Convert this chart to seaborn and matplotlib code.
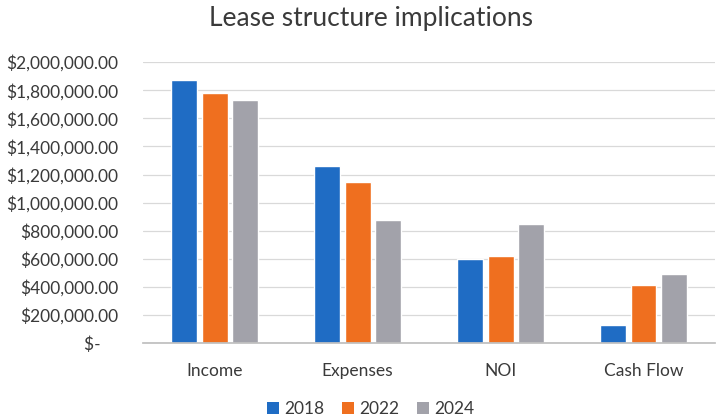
import matplotlib
matplotlib.use("Agg")
import matplotlib.pyplot as plt
from matplotlib.ticker import FuncFormatter, MultipleLocator
from matplotlib.patches import Patch
import seaborn as sns
import pandas as pd

categories = ["Income", "Expenses", "NOI", "Cash Flow"]
years = ["2018", "2022", "2024"]
values_2018 = [1870000, 1260000, 600000, 131000]
values_2022 = [1780000, 1144000, 622000, 413000]
values_2024 = [1730000, 880000, 847000, 494000]
colors = ["#1f6cc4", "#ef6f1f", "#a2a2aa"]

rows = []
for year, vals in zip(years, [values_2018, values_2022, values_2024]):
    for cat, v in zip(categories, vals):
        rows.append({"category": cat, "year": year, "value": v})
df = pd.DataFrame(rows)

sns.set_theme(style="white")
plt.rcParams["font.family"] = ["Lato", "DejaVu Sans"]
text_color = "#3a3a3a"

fig = plt.figure(figsize=(7.2, 4.2), dpi=100)
ax = fig.add_axes([0.199, 0.183, 0.794, 0.669])

sns.barplot(data=df, x="category", y="value", hue="year", order=categories,
            hue_order=years, palette=colors, width=0.64, gap=0.15,
            saturation=1, ax=ax, legend=False)

ax.set_ylim(0, 2000000)
ax.yaxis.set_major_locator(MultipleLocator(200000))


def money(v, pos):
    if abs(v) < 1:
        return "$-    "
    return f"${v:,.2f}"


ax.yaxis.set_major_formatter(FuncFormatter(money))
ax.grid(axis="y", color="#d9d9d9", linewidth=0.9)
ax.set_axisbelow(True)
for side in ["top", "right", "left"]:
    ax.spines[side].set_visible(False)
ax.spines["bottom"].set_color("#bfbfbf")
ax.tick_params(axis="y", length=0, labelsize=12.5, labelcolor=text_color, pad=18)
ax.tick_params(axis="x", length=0, labelsize=12.5, labelcolor=text_color, pad=14)
ax.set_xlabel("")
ax.set_ylabel("")

fig.text(0.515, 0.955, "Lease structure implications", ha="center", va="center",
         fontsize=19, color=text_color)

handles = [Patch(facecolor=c, edgecolor="none") for c in colors]
fig.legend(handles, years, loc="center", bbox_to_anchor=(0.515, 0.027), ncol=3,
           frameon=False, fontsize=12.5, handlelength=0.7, handleheight=0.7,
           handletextpad=0.3, columnspacing=1.0, labelcolor=text_color)

fig.savefig("out.png", dpi=100, facecolor="white")
